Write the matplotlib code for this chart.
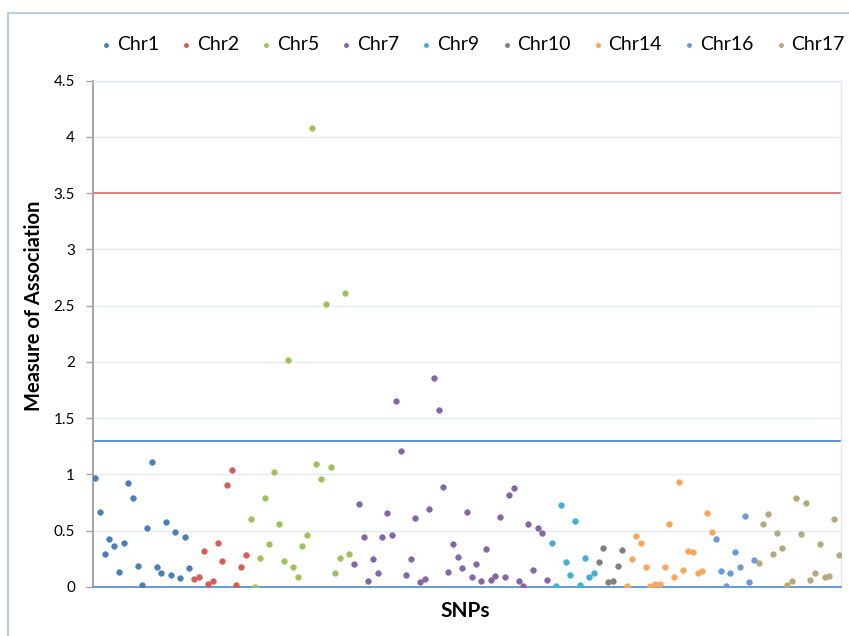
import matplotlib.pyplot as plt
from matplotlib.patches import Rectangle
import numpy as np

# --- Data: measure of association per SNP, grouped by chromosome ---
chromosomes = ["Chr1", "Chr2", "Chr5", "Chr7", "Chr9", "Chr10", "Chr14", "Chr16", "Chr17"]

chr1 = [0.97, 0.67, 0.29, 0.43, 0.36, 0.13, 0.39, 0.92, 0.79, 0.19, 0.02, 0.52, 1.11,
        0.18, 0.12, 0.58, 0.11, 0.49, 0.08, 0.44, 0.17]
chr2 = [0.07, 0.09, 0.32, 0.03, 0.05, 0.39, 0.23, 0.91, 1.04, 0.02, 0.18, 0.28]
chr5 = [0.60, 0.00, 0.26, 0.79, 0.38, 1.02, 0.56, 0.23, 2.02, 0.18, 0.09, 0.36, 0.46,
        4.08, 1.09, 0.96, 2.51, 1.07, 0.12, 0.26, 2.61, 0.29]
chr7 = [0.20, 0.74, 0.44, 0.05, 0.25, 0.12, 0.44, 0.66, 0.46, 1.65, 1.21, 0.11, 0.25,
        0.61, 0.04, 0.07, 0.69, 1.86, 1.57, 0.89, 0.13, 0.38, 0.27, 0.17, 0.67, 0.09,
        0.20, 0.05, 0.34, 0.06, 0.10, 0.62, 0.09, 0.82, 0.88, 0.05, 0.01, 0.56, 0.15,
        0.52, 0.48, 0.06]
chr9 = [0.39, 0.01, 0.73, 0.22, 0.11, 0.59, 0.02, 0.26, 0.09, 0.12]
chr10 = [0.22, 0.35, 0.04, 0.05, 0.19, 0.33]
chr14 = [0.01, 0.25, 0.45, 0.39, 0.18, 0.01, 0.03, 0.03, 0.18, 0.56, 0.09, 0.93, 0.15,
         0.32, 0.31, 0.12, 0.14, 0.66, 0.49]
chr16 = [0.43, 0.14, 0.01, 0.12, 0.31, 0.18, 0.63, 0.04, 0.24]
chr17 = [0.21, 0.56, 0.65, 0.29, 0.48, 0.35, 0.02, 0.05, 0.79, 0.47, 0.75, 0.06, 0.12,
         0.38, 0.09, 0.10, 0.60, 0.28]

series = [chr1, chr2, chr5, chr7, chr9, chr10, chr14, chr16, chr17]
colors = ["#4a7ebb", "#d45d5a", "#9fc15c", "#8466a8", "#40b0d0",
          "#808080", "#f8a65c", "#6a9bd6", "#b3aa7c"]

upper_threshold = 3.5
lower_threshold = 1.3

plt.rcParams['font.family'] = ['Lato', 'DejaVu Sans']

fig = plt.figure(figsize=(8.49, 6.36), dpi=100)
W, H = 849, 636

# chart frame (extends beyond the cropped picture)
fig.patches.append(Rectangle((8 / W, -0.1), 1.2, 1 - 13 / H + 0.1, transform=fig.transFigure,
                             fill=False, edgecolor="#a9c1dc", linewidth=1.2))

ax = fig.add_axes((93 / W, 1 - 587 / H, (841 - 93) / W, (587 - 80.5) / H))

# --- Scatter each chromosome on consecutive SNP positions ---
start = 1
for name, vals, col in zip(chromosomes, series, colors):
    xs = np.arange(start, start + len(vals))
    ax.scatter(xs, vals, s=16, color=col, edgecolors=col, linewidths=0.5,
               label=name, zorder=3)
    start += len(vals)
n_total = start - 1

ax.axhline(upper_threshold, color="#e07470", linewidth=1.3, zorder=2)
ax.axhline(lower_threshold, color="#4a8bd0", linewidth=1.3, zorder=2)

ax.set_xlim(0.5, n_total + 0.5)
ax.set_ylim(0, 4.5)
ax.set_yticks(np.arange(0, 4.51, 0.5))
ax.set_yticklabels(["0", "0.5", "1", "1.5", "2", "2.5", "3", "3.5", "4", "4.5"])
ax.set_xticks([])
ax.yaxis.grid(True, color="#e4e9f2", linewidth=1)
ax.set_axisbelow(True)

ax.tick_params(axis='y', labelsize=11, length=5, width=1, color="#a6a6a6", pad=8)
ax.spines['left'].set_color("#a6a6a6")
ax.spines['left'].set_linewidth(1.5)
ax.spines['bottom'].set_color("#5a93d2")
ax.spines['bottom'].set_linewidth(1.3)
for side in ('top', 'right'):
    ax.spines[side].set_color("#dde6f1")
    ax.spines[side].set_linewidth(1)

fig.text(465 / W, 1 - 611 / H, "SNPs", ha='center', va='center',
         fontsize=15, fontweight='bold')
fig.text(34 / W, 1 - 306 / H, "Measure of Association", ha='center', va='center',
         rotation=90, fontsize=14.5, fontweight='bold')

leg = fig.legend(loc='center', bbox_to_anchor=(471 / W, 1 - 45 / H), ncol=9,
                 frameon=False, fontsize=14, markerscale=0.75, handletextpad=0.1,
                 columnspacing=0.95, handlelength=0.9, borderpad=0)

fig.savefig("out.png", dpi=100)
